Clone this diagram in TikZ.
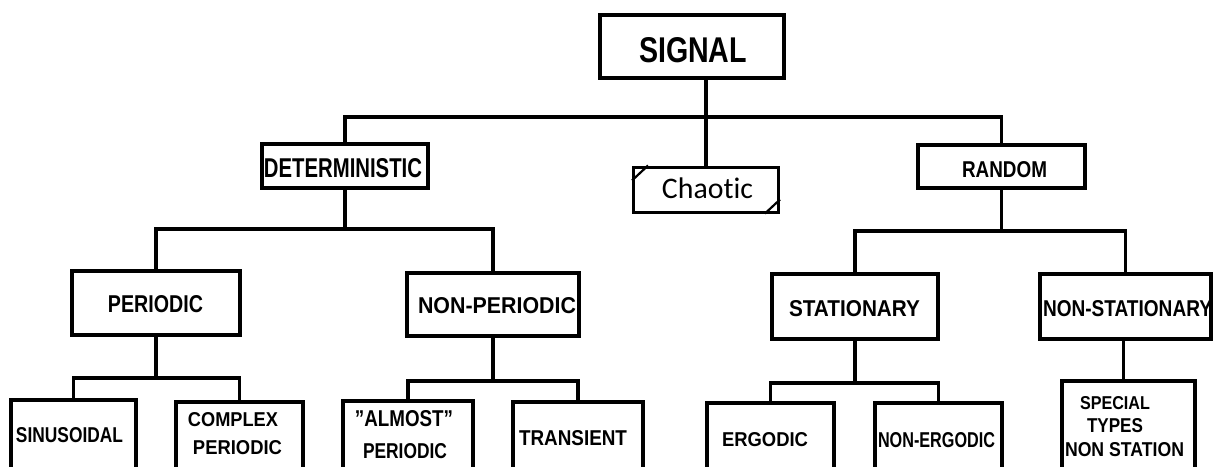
\documentclass[tikz,border=0pt]{standalone}
\usepackage{fontspec}
\setsansfont{Liberation Sans}
\newfontfamily\chaoticfont[Ligatures=NoCommon]{Carlito}
\usepackage{graphicx}
\begin{document}
\begin{tikzpicture}[x=1pt,y=-1pt,
  box/.style={draw, line width=3.3pt, inner sep=0pt, rectangle},
  lbl/.style={inner sep=0pt, anchor=base, font=\sffamily\bfseries},
  conn/.style={line width=3.3pt, line cap=rect}]
\useasboundingbox (0,0) rectangle (1213,466);
\fill[white] (0,0) rectangle (1213,466);
\clip (0,0) rectangle (1213,466);
% boxes
\node[box, minimum width=184pt, minimum height=63pt] (signal) at (692,46.5) {};
\node[box, minimum width=166pt, minimum height=44pt] (det) at (345,166) {};
\node[box, line width=3pt, minimum width=145pt, minimum height=45pt] (chaotic) at (706,189.5) {};
\node[box, minimum width=167pt, minimum height=43pt] (random) at (1001.5,166.5) {};
\node[box, minimum width=168pt, minimum height=64pt] (periodic) at (156,303) {};
\node[box, minimum width=172pt, minimum height=63pt] (nonper) at (493,304.5) {};
\node[box, minimum width=166pt, minimum height=65pt] (stat) at (855,306.5) {};
\node[box, minimum width=171pt, minimum height=65pt] (nonstat) at (1125.5,306.5) {};
\node[box, minimum width=125pt, minimum height=100pt] (sin) at (73.5,450) {};
\node[box, minimum width=127pt, minimum height=98pt] (complex) at (239.5,451) {};
\node[box, minimum width=130pt, minimum height=99pt] (almost) at (408,450.5) {};
\node[box, minimum width=130pt, minimum height=98pt] (trans) at (578,451) {};
\node[box, minimum width=127pt, minimum height=97pt] (erg) at (770.5,451.5) {};
\node[box, minimum width=127pt, minimum height=97pt] (nonerg) at (938.5,451.5) {};
\node[box, minimum width=133pt, minimum height=119pt] (special) at (1128.5,440.5) {};
% chaotic corner ticks
\draw[line width=2.2pt] ([yshift=-15pt]chaotic.north west) -- ([xshift=16pt]chaotic.north west);
\draw[line width=2.2pt] ([xshift=-15pt]chaotic.south east) -- ([yshift=14pt]chaotic.south east);
% connectors
\coordinate (top) at (706,117);
\coordinate (b1) at (345,229);
\coordinate (b2) at (156,378);
\coordinate (b3) at (493,381);
\coordinate (b4) at (1001.5,231);
\coordinate (b5) at (855,383);
\draw[conn] (signal.south -| chaotic.north) -- (chaotic.north);
\draw[conn] (det.north) |- (top) -| (random.north);
\draw[conn] (det.south) -- (b1);
\draw[conn] (periodic.north) |- (b1) -| (nonper.north);
\draw[conn] (periodic.south) -- (b2);
\draw[conn] (sin.north) |- (b2) -| (complex.north);
\draw[conn] (nonper.south) -- (b3);
\draw[conn] (almost.north) |- (b3) -| (trans.north);
\draw[conn] (random.south) -- (b4);
\draw[conn] (stat.north) |- (b4) -| (nonstat.north);
\draw[conn] (stat.south) -- (b5);
\draw[conn] (erg.north) |- (b5) -| (nonerg.north);
\draw[conn] ([xshift=-2pt]nonstat.south) -- ([xshift=-2pt]nonstat.south |- special.north);
% labels
\node[lbl] (tsignal) at (693,62) {\resizebox{108pt}{25pt}{SIGNAL}};
\node[lbl] (tdet) at (343,177) {\resizebox{158pt}{19pt}{DETERMINISTIC}};
\node[inner sep=0pt, anchor=base] (tchaotic) at (707.5,198) {\resizebox{91pt}{!}{\chaoticfont Chaotic}};
\node[lbl] (trandom) at (1004.5,177) {\resizebox{85pt}{16pt}{RANDOM}};
\node[lbl] (tperiodic) at (155.5,312) {\resizebox{95pt}{17pt}{PERIODIC}};
\node[lbl] (tnonper) at (497,313) {\resizebox{158pt}{16pt}{NON-PERIODIC}};
\node[lbl] (tstat) at (854.5,316) {\resizebox{131pt}{16pt}{STATIONARY}};
\node[lbl] (tnonstat) at (1127.5,316) {\resizebox{169pt}{16pt}{NON-STATIONARY}};
\node[lbl] (tsin) at (69.5,442) {\resizebox{107pt}{15pt}{SINUSOIDAL}};
\node[lbl] (tcomplexa) at (233,426) {\resizebox{90pt}{14pt}{COMPLEX}};
\node[lbl] (tcomplexb) at (237.5,454) {\resizebox{89pt}{14pt}{PERIODIC}};
\node[lbl] (talmosta) at (404,426) {\resizebox{98pt}{16pt}{\char"22 ALMOST\char"22}};
\node[lbl] (talmostb) at (405,458) {\resizebox{84pt}{15pt}{PERIODIC}};
\node[lbl] (ttrans) at (573,445) {\resizebox{108pt}{15pt}{TRANSIENT}};
\node[lbl] (terg) at (765,446) {\resizebox{86pt}{14pt}{ERGODIC}};
\node[lbl] (tnonerg) at (936.5,447) {\resizebox{117pt}{15pt}{NON-ERGODIC}};
\node[lbl] (tspecial) at (1115,409) {\resizebox{70pt}{13pt}{SPECIAL}};
\node[lbl] (ttypes) at (1115,432) {\resizebox{56pt}{14pt}{TYPES}};
\node[lbl] (tnonstation) at (1124.5,456) {\resizebox{119pt}{14pt}{NON STATION}};
\end{tikzpicture}
\end{document}
